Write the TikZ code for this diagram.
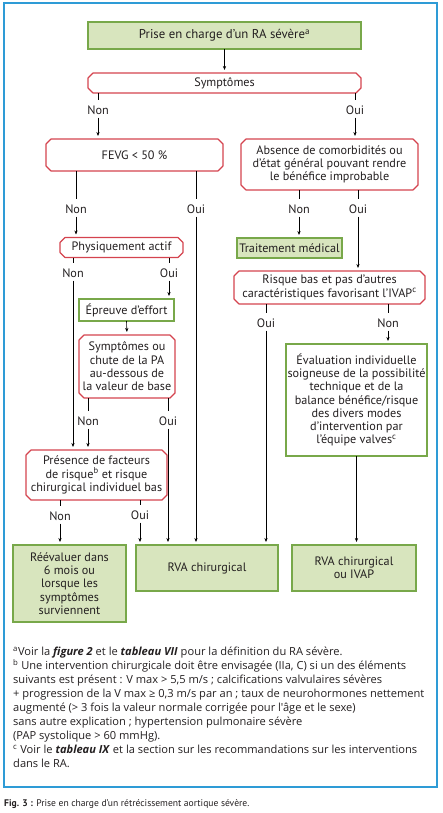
\documentclass[tikz,border=0pt]{standalone}
\usepackage{fontspec}
\setmainfont{PT Sans}
\newfontfamily\notefont{Open Sans}
\usetikzlibrary{arrows.meta}
\definecolor{grn}{HTML}{78A84A}
\definecolor{grnfill}{HTML}{D8E5BE}
\definecolor{redc}{HTML}{D4434E}
\definecolor{bluec}{HTML}{2E9BD6}
\definecolor{txt}{HTML}{231F20}
\newcommand\chamfbox[1]{\draw[redline] ([xshift=5pt]#1.north west) -- ([xshift=-5pt]#1.north east) -- ([yshift=-5pt]#1.north east) -- ([yshift=5pt]#1.south east) -- ([xshift=-5pt]#1.south east) -- ([xshift=5pt]#1.south west) -- ([yshift=5pt]#1.south west) -- ([yshift=-5pt]#1.north west) -- cycle;}
\begin{document}
\begin{tikzpicture}[x=1pt,y=-1pt,
  every node/.style={text=txt},
  boxfont/.style={font={\fontsize{12.2}{13.3}\selectfont}},
  gbox/.style={boxfont, draw=grn, fill=grnfill, line width=1.5pt, inner sep=0pt, outer sep=0pt, align=center},
  wbox/.style={boxfont, draw=grn, fill=white, line width=1.5pt, inner sep=0pt, outer sep=0pt, align=center},
  rbox/.style={boxfont, rectangle, inner sep=0pt, outer sep=0pt, align=center},
  redline/.style={draw=redc, line width=1.2pt, line join=round},
  lbl/.style={boxfont, inner sep=3pt},
  ln/.style={line width=0.6pt, draw=black},
  arr/.style={ln, -{Stealth[length=4pt,width=3.2pt]}, shorten >=3pt}
]
\useasboundingbox (0,0) rectangle (443,813);
% frame
\draw[bluec, line width=1.1pt] (4,3) rectangle (437,787);

% nodes
\node[gbox, minimum width=273pt, minimum height=27pt, font={\fontsize{12.8}{13.3}\selectfont}] (top) at (224.5,35.5) {Prise en charge d'un RA sévère\textsuperscript{a}};
\node[rbox, minimum width=273pt, minimum height=20pt] (symp) at (224.5,83) {Symptômes};
\node[rbox, minimum width=177pt, minimum height=32pt] (fevg) at (134.5,155) {FEVG < 50 \%};
\node[rbox, minimum width=177pt, minimum height=51pt] (abs) at (329.5,164.5) {Absence de comorbidités ou\\d'état général pouvant rendre\\le bénéfice improbable};
\node[rbox, minimum width=123pt, minimum height=20pt] (phys) at (121.5,247.5) {Physiquement actif};
\node[gbox, minimum width=105pt, minimum height=20pt] (trait) at (289.5,248) {Traitement médical};
\node[wbox, minimum width=95pt, minimum height=22pt] (epr) at (126.5,310) {Épreuve d'effort};
\node[rbox, minimum width=96pt, minimum height=63pt] (sympt) at (127,366.5) {Symptômes ou\\chute de la PA\\au-dessous de\\la valeur de base};
\node[rbox, minimum width=191pt, minimum height=33pt] (risq) at (329.5,287.5) {Risque bas et pas d'autres\\caractéristiques favorisant l'IVAP\textsuperscript{c}};
\node[wbox, minimum width=141pt, minimum height=112pt] (eval) at (356.5,400) {Évaluation individuelle\\soigneuse de la possibilité\\technique et de la\\balance bénéfice/risque\\des divers modes\\d'intervention par\\l'équipe valves\textsuperscript{c}};
\node[rbox, minimum width=141pt, minimum height=50pt] (pres) at (96.5,475) {Présence de facteurs\\de risque\textsuperscript{b} et risque\\chirurgical individuel bas};
\node[gbox, minimum width=113pt, minimum height=77pt] (reev) at (69.5,583.5) {Réévaluer dans\\6 mois ou\\lorsque les\\symptômes\\surviennent};
\node[gbox, minimum width=142pt, minimum height=46pt] (rva1) at (207,568) {RVA chirurgical};
\node[gbox, minimum width=124pt, minimum height=46pt] (rva2) at (354,568) {RVA chirurgical\\ou IVAP};

\chamfbox{symp}
\chamfbox{fevg}
\chamfbox{abs}
\chamfbox{phys}
\chamfbox{sympt}
\chamfbox{risq}
\chamfbox{pres}

% labels
\node[lbl] (sN) at (98,110) {Non};
\node[lbl] (sO) at (355,110) {Oui};
\node[lbl] (fN) at (76,209) {Non};
\node[lbl] (fO) at (196,209) {Oui};
\node[lbl] (aN) at (299,209) {Non};
\node[lbl] (aO) at (358,209) {Oui};
\node[lbl] (pN) at (73,273) {Non};
\node[lbl] (pO) at (169,273) {Oui};
\node[lbl] (yN) at (88,421) {Non};
\node[lbl] (yO) at (168,421) {Oui};
\node[lbl] (rO) at (266,323) {Oui};
\node[lbl] (rN) at (388,323) {Non};
\node[lbl] (eN) at (60,516) {Non};
\node[lbl] (eO) at (140,515) {Oui};

% connectors
\draw[arr] (top.south) -- (symp.north);
\draw[ln, shorten >=2pt] (symp.south -| sN) -- (sN.north);
\draw[arr] (sN.south) -- (fevg.north -| sN);
\draw[ln, shorten >=2pt] (symp.south -| sO) -- (sO.north);
\draw[arr] (sO.south) -- (abs.north -| sO);

\draw[ln, shorten >=2pt] (fevg.south -| fN) -- (fN.north);
\draw[arr] (fN.south) -- (phys.north -| fN);
\draw[ln, shorten >=2pt] (fevg.south -| fO) -- (fO.north);
\draw[arr] (fO.south) -- (rva1.north -| fO);

\draw[ln, shorten >=2pt] (abs.south -| aN) -- (aN.north);
\draw[arr] (aN.south) -- (trait.north -| aN);
\draw[ln, shorten >=2pt] (abs.south -| aO) -- (aO.north);
\draw[arr] (aO.south) -- (risq.north -| aO);

\draw[ln, shorten >=2pt] (phys.south -| pN) -- (pN.north);
\draw[arr] (pN.south) -- (pres.north -| pN);
\draw[ln, shorten >=2pt] (phys.south -| pO) -- (pO.north);
\draw[arr] (pO.south) -- (epr.north -| pO);

\draw[arr] (epr.south) -- (sympt.north);

\draw[ln, shorten >=2pt] (sympt.south -| yN) -- (yN.north);
\draw[arr] (yN.south) -- (pres.north -| yN);
\draw[ln, shorten >=2pt] (sympt.south -| yO) -- (yO.north);
\draw[arr] (yO.south) -- (rva1.north -| yO);

\draw[ln, shorten >=2pt] (risq.south -| rO) -- (rO.north);
\draw[arr] (rO.south) -- (rva1.north -| rO);
\draw[ln, shorten >=2pt] (risq.south -| rN) -- (rN.north);
\draw[arr] (rN.south) -- (eval.north -| rN);

\draw[ln, shorten >=2pt] (pres.south -| eN) -- (eN.north);
\draw[arr] (eN.south) -- (reev.north -| eN);
\draw[ln, shorten >=2pt] (pres.south -| eO) -- (eO.north);
\draw[arr] (eO.south) -- (rva1.north -| eO);

\draw[arr] (eval.south) -- (rva2.north -| eval.south);

% footnotes
\node[anchor=north west, align=left, inner sep=0pt, font={\notefont\fontsize{11.1}{14}\selectfont}] (notes) at (13,647) {%
\textsuperscript{a}Voir la \textbf{\textit{figure 2}} et le \textbf{\textit{tableau VII}} pour la définition du RA sévère.\\
\textsuperscript{b} Une intervention chirurgicale doit être envisagée (IIa, C) si un des éléments\\
suivants est présent : V max > 5,5 m/s ; calcifications valvulaires sévères\\
+ progression de la V max ≥ 0,3 m/s par an ; taux de neurohormones nettement\\
augmenté (> 3 fois la valeur normale corrigée pour l'âge et le sexe)\\
sans autre explication ; hypertension pulmonaire sévère\\
(PAP systolique > 60 mmHg).\\
\textsuperscript{c} Voir le \textbf{\textit{tableau IX}} et la section sur les recommandations sur les interventions\\
dans le RA.};

% caption
\node[anchor=west, inner sep=0pt, font={\fontsize{9.6}{10}\selectfont}] (cap) at (4,804) {\textbf{Fig. 3 :} Prise en charge d'un rétrécissement aortique sévère.};
\end{tikzpicture}
\end{document}
